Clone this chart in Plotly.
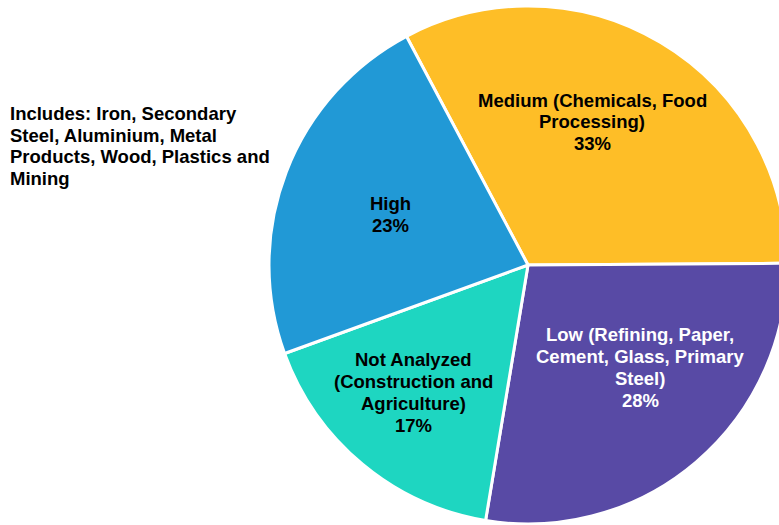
import plotly.graph_objects as go

# Industrial energy-efficiency potential by sector group
categories = [
    "Medium (Chemicals, Food<br>Processing)",
    "Low (Refining, Paper,<br>Cement, Glass, Primary<br>Steel)",
    "Not Analyzed<br>(Construction and<br>Agriculture)",
    "High",
]
shares = [33, 28, 17, 23]
colors = ["#FEBE27", "#584AA5", "#1ED6C1", "#2199D6"]
label_colors = ["#000000", "#FFFFFF", "#000000", "#000000"]
note = "Includes: Iron, Secondary<br>Steel, Aluminium, Metal<br>Products, Wood, Plastics and<br>Mining"

W, H = 790, 525
cx, cy, r = 528, 265, 259
FONT = "Arial"
SIZE = 18.5
LINE = 22  # pixel gap between text lines


def add_text_block(text, px, py, color, anchor="center"):
    """Place a multi-line block centred vertically on (px, py), one annotation per line."""
    lines = text.split("<br>")
    n = len(lines)
    for i, line in enumerate(lines):
        y_px = py + (i - (n - 1) / 2) * LINE
        fig.add_annotation(
            x=px / W, y=1 - y_px / H, xref="paper", yref="paper",
            text=line, showarrow=False,
            xanchor=anchor, yanchor="middle", align=anchor,
            font=dict(family=FONT, size=SIZE, color=color, weight="bold"),
        )


fig = go.Figure(
    go.Pie(
        labels=categories,
        values=shares,
        sort=False,
        direction="clockwise",
        rotation=-28,
        marker=dict(colors=colors, line=dict(color="#FFFFFF", width=3)),
        textinfo="none",
        hoverinfo="label+value",
        showlegend=False,
        domain=dict(x=[(cx - r) / W, (cx + r) / W], y=[1 - (cy + r) / H, 1 - (cy - r) / H]),
    )
)

# slice labels: category text plus its share
label_pos = [(592, 122), (640, 367), (413, 392), (390, 214)]
for cat, val, col, (px, py) in zip(categories, shares, label_colors, label_pos):
    add_text_block(f"{cat}<br>{val}%", px, py, col)

add_text_block(note, 8, 146, "#000000", anchor="left")

fig.update_layout(
    width=W, height=H, autosize=False,
    margin=dict(l=0, r=0, t=0, b=0),
    paper_bgcolor="#FFFFFF", plot_bgcolor="#FFFFFF",
)

fig.write_html(
    "out.html",
    post_script="document.documentElement.style.overflow='hidden';document.body.style.overflow='hidden';document.body.style.margin='0';",
)
